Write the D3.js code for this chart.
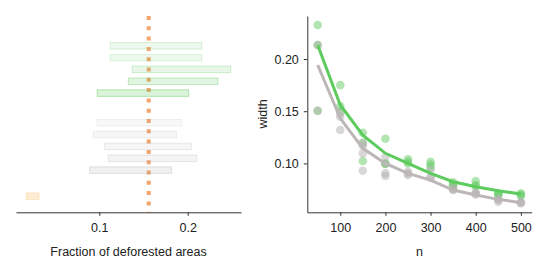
<!DOCTYPE html>
<html>
<head>
<meta charset="utf-8">
<script src="https://cdn.jsdelivr.net/npm/d3@7"></script>
<style>
  body { margin: 0; background: #fff; }
  svg text { font-family: "Liberation Sans", Arial, sans-serif; fill: #222; }
  .axis path, .axis line { stroke: #333; }
</style>
</head>
<body>
<div id="main"></div>
<script>
/// data ///
// left panel: interval bars (row position, low, high, group)
const barRows  = [0, 1, 2, 3, 4, 6.5, 7.5, 8.5, 9.5, 10.5, 12.7];
const barLow   = [0.1124, 0.1124, 0.1373, 0.1328, 0.0977, 0.0974, 0.0932, 0.1057, 0.1102, 0.0891, 0.0174];
const barHigh  = [0.2158, 0.2158, 0.2486, 0.2343, 0.2011, 0.1932, 0.1875, 0.2045, 0.2102, 0.1819, 0.0318];
const barGroup = ['g', 'g', 'g', 'g', 'g', 'k', 'k', 'k', 'k', 'k', 'o'];
const refValue = 0.1559;            // dotted vertical line
const leftTicks = [0.1, 0.2];

// right panel: width vs n
const nValues    = [50, 100, 150, 200, 250, 300, 350, 400, 450, 500];
const greenCurve = [0.2134, 0.1560, 0.1270, 0.1097, 0.1000, 0.0905, 0.0825, 0.0777, 0.0739, 0.0707];
const grayCurve  = [0.1943, 0.1432, 0.1145, 0.1000, 0.0905, 0.0841, 0.0745, 0.0697, 0.0656, 0.0624];
const greenPts = [
    [50, 0.2326], [50, 0.2134], [50, 0.1505],
    [100, 0.1750], [100, 0.1550], [100, 0.1500],
    [150, 0.1294], [150, 0.1200], [150, 0.1023],
    [200, 0.1237], [200, 0.1000], [200, 0.0994],
    [250, 0.1040], [250, 0.1016], [250, 0.1000],
    [300, 0.1016], [300, 0.0990], [300, 0.0960],
    [350, 0.0820], [350, 0.0800], [350, 0.0790],
    [400, 0.0831], [400, 0.0793], [400, 0.0780],
    [450, 0.0714], [450, 0.0705], [450, 0.0700],
    [500, 0.0714], [500, 0.0700], [500, 0.0690]
];
const grayPts = [
    [50, 0.2134], [50, 0.1505],
    [100, 0.1480], [100, 0.1447], [100, 0.1320],
    [150, 0.1190], [150, 0.1170], [150, 0.1097], [150, 0.0930],
    [200, 0.1064], [200, 0.1000], [200, 0.0905], [200, 0.0880],
    [250, 0.0920], [250, 0.0905], [250, 0.0890],
    [300, 0.0940], [300, 0.0870], [300, 0.0860],
    [350, 0.0762], [350, 0.0750], [350, 0.0745],
    [400, 0.0720], [400, 0.0714], [400, 0.0700],
    [450, 0.0660], [450, 0.0650], [450, 0.0633],
    [500, 0.0630], [500, 0.0625], [500, 0.0618]
];
const rightXTicks = [100, 200, 300, 400, 500];
const rightYTicks = [0.10, 0.15, 0.20];

/// styles ///
const barOpacity = [0.11, 0.11, 0.15, 0.19, 0.24, 0.08, 0.09, 0.11, 0.13, 0.16, 0.3];
const barColor = { g: '#66cc66', k: '#aaaaaa', o: '#fcc373' };
const green = '#5dcb5d';
const gray = '#bcb6b6';
const orange = '#f4a46c';
const fs = 12.5;

const w = 548, h = 274;
const svg = d3.select('#main').append('svg').attr('width', w).attr('height', h);

/// left panel ///
const xL = d3.scaleLinear().domain([0.00577, 0.2603]).range([16, 241]);
const rowY = d3.scaleLinear().domain([0, 12.7]).range([45.7, 196.2]);
const axisY = 212.3;
const barH = 6.5;

svg.append('line')      // dotted reference line, behind the bars
    .attr('x1', xL(refValue)).attr('x2', xL(refValue))
    .attr('y1', 16).attr('y2', axisY)
    .attr('stroke', orange)
    .attr('stroke-width', 4)
    .attr('stroke-dasharray', '4 6.3');

svg.selectAll('rect.bar')
    .data(barRows)
    .enter()
    .append('rect')
    .attr('class', 'bar')
    .attr('x', (d, i) => xL(barLow[i]))
    .attr('y', d => rowY(d) - barH / 2)
    .attr('width', (d, i) => xL(barHigh[i]) - xL(barLow[i]))
    .attr('height', barH)
    .attr('fill', (d, i) => barColor[barGroup[i]])
    .attr('fill-opacity', (d, i) => barOpacity[i])
    .attr('stroke', (d, i) => barColor[barGroup[i]])
    .attr('stroke-opacity', (d, i) => barGroup[i] === 'o' ? 0.35 : Math.min(1, barOpacity[i] * 2))
    .attr('stroke-width', 1);

const xAxisL = d3.axisBottom(xL).tickValues(leftTicks).tickFormat(d3.format('.1f'))
    .tickSizeInner(3.5).tickSizeOuter(0).tickPadding(7);
svg.append('g')
    .attr('class', 'axis')
    .attr('transform', 'translate(0,' + axisY + ')')
    .call(xAxisL)
    .call(g => g.selectAll('text').style('font-size', fs + 'px').attr('fill', '#222'));

svg.append('text')
    .attr('x', 128.5).attr('y', 255.5)
    .attr('text-anchor', 'middle')
    .style('font-size', fs + 'px')
    .text('Fraction of deforested areas');

/// right panel ///
const xR = d3.scaleLinear().domain([27, 524]).range([307.3, 531.7]);
const yR = d3.scaleLinear().domain([0.0532, 0.2412]).range([axisY, 16]);

svg.selectAll('circle.gp')
    .data(greenPts)
    .enter()
    .append('circle')
    .attr('class', 'gp')
    .attr('cx', d => xR(d[0])).attr('cy', d => yR(d[1]))
    .attr('r', 4.3)
    .attr('fill', '#66cc66')
    .attr('fill-opacity', 0.5);

svg.selectAll('circle.kp')
    .data(grayPts)
    .enter()
    .append('circle')
    .attr('class', 'kp')
    .attr('cx', d => xR(d[0])).attr('cy', d => yR(d[1]))
    .attr('r', 4.3)
    .attr('fill', '#b4b0b0')
    .attr('fill-opacity', 0.5);

const line = d3.line().x(d => xR(d[0])).y(d => yR(d[1]));

svg.append('path')
    .datum(nValues.map((n, i) => [n, grayCurve[i]]))
    .attr('d', line)
    .attr('fill', 'none')
    .attr('stroke', gray)
    .attr('stroke-width', 3);

svg.append('path')
    .datum(nValues.map((n, i) => [n, greenCurve[i]]))
    .attr('d', line)
    .attr('fill', 'none')
    .attr('stroke', green)
    .attr('stroke-width', 3);

svg.append('g')
    .attr('class', 'axis')
    .attr('transform', 'translate(0,' + axisY + ')')
    .call(d3.axisBottom(xR).tickValues(rightXTicks).tickSizeInner(3.5).tickSizeOuter(0).tickPadding(7))
    .call(g => g.selectAll('text').style('font-size', fs + 'px').attr('fill', '#222'));

svg.append('g')
    .attr('class', 'axis')
    .attr('transform', 'translate(307.3,0)')
    .call(d3.axisLeft(yR).tickValues(rightYTicks).tickFormat(d3.format('.2f'))
        .tickSizeInner(3.5).tickSizeOuter(0).tickPadding(5))
    .call(g => g.selectAll('text').style('font-size', fs + 'px').attr('fill', '#222'));

svg.append('text')
    .attr('x', 419.5).attr('y', 255.5)
    .attr('text-anchor', 'middle')
    .style('font-size', fs + 'px')
    .text('n');

svg.append('text')
    .attr('transform', 'translate(267,114) rotate(-90)')
    .attr('text-anchor', 'middle')
    .style('font-size', fs + 'px')
    .text('width');
</script>
</body>
</html>
